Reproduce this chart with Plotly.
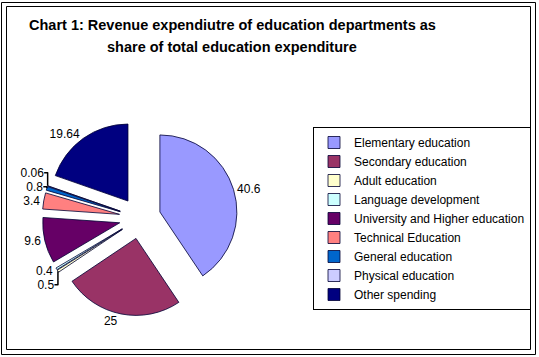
import plotly.graph_objects as go

categories = ["Elementary education", "Secondary education", "Adult education",
              "Language development", "University and Higher education",
              "Technical Education", "General education", "Physical education",
              "Other spending"]
values = [40.6, 25, 0.5, 0.4, 9.6, 3.4, 0.8, 0.06, 19.64]
colors = ["#9999FF", "#993366", "#FFFFCC", "#CCFFFF", "#660066",
          "#FF8080", "#0066CC", "#CCCCFF", "#000080"]
title_lines = ["Chart 1: Revenue expendiutre of education departments as",
               "share of total education expenditure"]

W, H = 539, 357
cx, cy, R, pull = 140, 218, 77, 0.27
ext = R * (1 + pull)
FONT = "Liberation Sans, Arial"

fig = go.Figure(go.Pie(
    labels=categories, values=values, sort=False, direction="clockwise",
    rotation=0, pull=[pull] * len(values),
    marker=dict(colors=colors, line=dict(color="#000033", width=0.8)),
    textinfo="value", textposition="outside",
    texttemplate="%{value}",
    textfont=dict(family=FONT, size=12, color="black"),
    domain=dict(x=[(cx - ext) / W, (cx + ext) / W],
                y=[(H - cy - ext) / H, (H - cy + ext) / H]),
    hoverinfo="label+value",
))

fig.update_layout(
    width=W, height=H,
    margin=dict(l=0, r=0, t=0, b=0, autoexpand=False),
    paper_bgcolor="white", plot_bgcolor="white",
    font=dict(family=FONT, size=12, color="black"),
    legend=dict(x=313 / W, y=1 - 127 / H, xanchor="left", yanchor="top",
                bordercolor="black", borderwidth=1, bgcolor="white",
                font=dict(size=12), tracegroupgap=0),
    shapes=[
        dict(type="rect", xref="paper", yref="paper",
             x0=1.5 / W, x1=535.5 / W, y0=1 - 2.5 / H, y1=1 - 354.5 / H,
             line=dict(color="black", width=1)),
        dict(type="rect", xref="paper", yref="paper",
             x0=6.5 / W, x1=530.5 / W, y0=1 - 6.5 / H, y1=1 - 349.5 / H,
             line=dict(color="black", width=1)),
    ],
    annotations=[
        dict(text="<b>%s</b>" % title_lines[0], x=232 / W, y=1 - 25 / H,
             xref="paper", yref="paper", showarrow=False,
             font=dict(size=14.5), xanchor="center", yanchor="middle"),
        dict(text="<b>%s</b>" % title_lines[1], x=232 / W, y=1 - 47 / H,
             xref="paper", yref="paper", showarrow=False,
             font=dict(size=14.5), xanchor="center", yanchor="middle"),
    ],
)

fig.write_html("out.html",
               config={"displayModeBar": False},
               post_script="document.body.style.margin='0';"
                           "document.body.style.overflow='hidden';")
